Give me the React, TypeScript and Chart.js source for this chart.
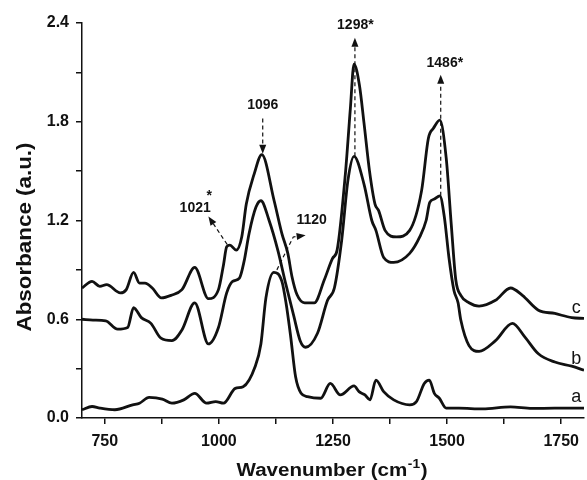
import React, { useEffect, useRef } from 'react';
import { Chart, registerables } from 'chart.js';

Chart.register(...registerables);

// ---- Data (wavenumber cm-1, absorbance a.u.) ----
const waveC = [700, 722, 739, 754, 784, 797, 813, 826, 838, 854, 874, 895, 919, 947, 977, 999, 1010, 1017, 1024, 1038, 1050, 1060, 1077, 1094, 1121, 1138, 1151, 1160, 1171, 1188, 1209, 1231, 1249, 1259, 1277, 1288, 1296, 1308, 1318, 1330, 1342, 1350, 1364, 1389, 1418, 1444, 1459, 1470, 1484, 1498, 1509, 1519, 1530, 1548, 1570, 1606, 1639, 1665, 1700, 1736, 1773, 1800];
const absC = [0.79, 0.83, 0.80, 0.81, 0.76, 0.78, 0.885, 0.82, 0.82, 0.79, 0.73, 0.745, 0.78, 0.915, 0.725, 0.78, 0.93, 1.04, 1.05, 1.02, 1.10, 1.30, 1.48, 1.60, 1.32, 1.12, 1.0, 0.86, 0.75, 0.70, 0.70, 0.84, 0.97, 1.02, 1.48, 1.88, 2.15, 2.02, 1.79, 1.50, 1.30, 1.26, 1.14, 1.10, 1.14, 1.38, 1.70, 1.76, 1.81, 1.58, 1.18, 0.84, 0.745, 0.70, 0.68, 0.715, 0.79, 0.745, 0.655, 0.635, 0.61, 0.605];

const waveB = [700, 724, 752, 778, 800, 813, 830, 851, 873, 897, 919, 947, 977, 999, 1017, 1030, 1045, 1055, 1066, 1081, 1092, 1110, 1129, 1146, 1164, 1178, 1190, 1216, 1238, 1253, 1269, 1283, 1296, 1318, 1335, 1344, 1361, 1383, 1418, 1440, 1454, 1462, 1472, 1484, 1494, 1504, 1515, 1524, 1530, 1548, 1570, 1606, 1643, 1671, 1700, 1736, 1773, 1800];
const absB = [0.60, 0.595, 0.59, 0.54, 0.55, 0.67, 0.61, 0.575, 0.485, 0.47, 0.535, 0.70, 0.45, 0.55, 0.76, 0.83, 0.85, 0.95, 1.12, 1.28, 1.32, 1.20, 1.02, 0.82, 0.62, 0.47, 0.43, 0.515, 0.715, 0.79, 1.08, 1.45, 1.59, 1.42, 1.20, 1.14, 0.975, 0.945, 1.0, 1.10, 1.20, 1.31, 1.33, 1.35, 1.22, 0.975, 0.775, 0.70, 0.595, 0.44, 0.405, 0.47, 0.575, 0.49, 0.39, 0.34, 0.315, 0.29];

const waveA = [700, 722, 739, 772, 811, 826, 847, 876, 897, 923, 947, 973, 993, 1010, 1036, 1053, 1079, 1092, 1103, 1120, 1138, 1147, 1157, 1168, 1180, 1194, 1223, 1244, 1266, 1296, 1307, 1320, 1331, 1344, 1361, 1383, 1418, 1433, 1450, 1461, 1472, 1483, 1498, 1526, 1578, 1639, 1686, 1736, 1800];
const absA = [0.05, 0.07, 0.06, 0.05, 0.08, 0.09, 0.125, 0.115, 0.09, 0.11, 0.15, 0.09, 0.10, 0.09, 0.18, 0.19, 0.31, 0.45, 0.73, 0.885, 0.83, 0.70, 0.50, 0.25, 0.15, 0.13, 0.12, 0.21, 0.14, 0.195, 0.16, 0.14, 0.11, 0.23, 0.16, 0.11, 0.08, 0.10, 0.21, 0.23, 0.15, 0.12, 0.06, 0.06, 0.055, 0.067, 0.058, 0.06, 0.06];

const seriesNames = ['a', 'b', 'c'];
const seriesLabelPos = [0.127, 0.36, 0.667];
const seriesLabelX = 1783;

const xTicks = [750, 875, 1000, 1125, 1250, 1375, 1500, 1625, 1750];
const yTicks = [0, 0.3, 0.6, 0.9, 1.2, 1.5, 1.8, 2.1, 2.4];

// peak annotations, in data units
const peakTexts = [
  { text: '1096', x: 1096, y: 1.9 },
  { text: '1298*', x: 1299, y: 2.385 },
  { text: '1486*', x: 1495, y: 2.155 },
  { text: '1120', x: 1203, y: 1.2 },
  { text: '1021', x: 948, y: 1.275 },
  { text: '*', x: 979, y: 1.345 },
];
const peakArrows = [
  { pts: [[1096, 1.82], [1096, 1.605]] },
  { pts: [[1298, 1.59], [1298, 2.31]] },
  { pts: [[1486, 1.35], [1486, 2.085]] },
  { pts: [[1018, 1.055], [977, 1.225]] },
  { pts: [[1127, 0.9], [1163, 1.1], [1190, 1.11]] },
];

const FONT = '"Liberation Sans", Arial, sans-serif';
const INK = '#111';

const overlay = {
  id: 'overlay',
  afterDatasetsDraw(chart: any) {
    const { ctx, scales } = chart;
    const xs = scales.x;
    const ys = scales.y;
    const px = (v: number) => xs.getPixelForValue(v);
    const py = (v: number) => ys.getPixelForValue(v);
    ctx.save();
    ctx.strokeStyle = INK;
    ctx.fillStyle = INK;
    peakArrows.forEach((a) => {
      const p = a.pts.map(([x, y]) => [px(x), py(y)]);
      const n = p.length;
      const [x1, y1] = p[n - 2];
      const [x2, y2] = p[n - 1];
      const ang = Math.atan2(y2 - y1, x2 - x1);
      const hl = 9;
      const hw = 3.5;
      ctx.setLineDash([4, 3]);
      ctx.lineWidth = 1.2;
      ctx.beginPath();
      ctx.moveTo(p[0][0], p[0][1]);
      for (let i = 1; i < n - 1; i++) ctx.lineTo(p[i][0], p[i][1]);
      ctx.lineTo(x2 - Math.cos(ang) * hl, y2 - Math.sin(ang) * hl);
      ctx.stroke();
      ctx.setLineDash([]);
      ctx.beginPath();
      ctx.moveTo(x2, y2);
      ctx.lineTo(x2 - Math.cos(ang) * hl - Math.sin(ang) * hw, y2 - Math.sin(ang) * hl + Math.cos(ang) * hw);
      ctx.lineTo(x2 - Math.cos(ang) * hl + Math.sin(ang) * hw, y2 - Math.sin(ang) * hl - Math.cos(ang) * hw);
      ctx.closePath();
      ctx.fill();
    });
    ctx.font = `bold 14px ${FONT}`;
    ctx.textAlign = 'center';
    ctx.textBaseline = 'middle';
    peakTexts.forEach((t) => ctx.fillText(t.text, px(t.x), py(t.y)));
    ctx.font = `18px ${FONT}`;
    seriesNames.forEach((s, i) => ctx.fillText(s, px(seriesLabelX), py(seriesLabelPos[i])));
    ctx.restore();
  },
  afterDraw(chart: any) {
    const { ctx } = chart;
    ctx.save();
    ctx.fillStyle = INK;
    ctx.font = `bold 21px ${FONT}`;
    const yt = 'Absorbance (a.u.)';
    const yw = ctx.measureText(yt).width;
    ctx.translate(31, 237);
    ctx.rotate(-Math.PI / 2);
    ctx.scale(189 / yw, 1);
    ctx.textAlign = 'center';
    ctx.textBaseline = 'alphabetic';
    ctx.fillText(yt, 0, 0);
    ctx.restore();

    ctx.save();
    ctx.fillStyle = INK;
    const main = 'Wavenumber (cm';
    const sup = '-1';
    const close = ')';
    const mainFont = `bold 18px ${FONT}`;
    const supFont = `bold 12px ${FONT}`;
    ctx.font = mainFont;
    const w1 = ctx.measureText(main).width;
    const w3 = ctx.measureText(close).width;
    ctx.font = supFont;
    const w2 = ctx.measureText(sup).width;
    const total = w1 + w2 + w3 + 1;
    const sx = 191 / total;
    ctx.translate(332 - 95.5, 476);
    ctx.scale(sx, 1);
    ctx.textAlign = 'left';
    ctx.textBaseline = 'alphabetic';
    ctx.font = mainFont;
    ctx.fillText(main, 0, 0);
    ctx.font = supFont;
    ctx.fillText(sup, w1 + 0.5, -8);
    ctx.font = mainFont;
    ctx.fillText(close, w1 + w2 + 1, 0);
    ctx.restore();
  },
};

export default function App() {
  const ref = useRef<HTMLCanvasElement | null>(null);
  useEffect(() => {
    if (!ref.current) return;
    const mk = (xv: number[], yv: number[]) => xv.map((x, i) => ({ x, y: yv[i] }));
    const dsStyle = {
      borderColor: INK,
      borderWidth: 2.8,
      pointRadius: 0,
      fill: false,
      cubicInterpolationMode: 'monotone' as const,
    };
    const chart = new Chart(ref.current, {
      type: 'line',
      data: {
        datasets: [
          { label: 'a', data: mk(waveA, absA), ...dsStyle },
          { label: 'b', data: mk(waveB, absB), ...dsStyle },
          { label: 'c', data: mk(waveC, absC), ...dsStyle },
        ],
      },
      options: {
        animation: false,
        responsive: false,
        devicePixelRatio: 1,
        layout: { padding: { top: 23, right: 0, left: 0, bottom: 0 } },
        plugins: { legend: { display: false }, tooltip: { enabled: false } },
        scales: {
          x: {
            type: 'linear',
            min: 700,
            max: 1800,
            afterFit: (s: any) => { s.height = 62; },
            afterBuildTicks: (s: any) => { s.ticks = xTicks.map((v) => ({ value: v })); },
            ticks: {
              autoSkip: false,
              maxRotation: 0,
              padding: 8,
              color: INK,
              font: { family: FONT, size: 16, weight: 'bold' },
              callback: (v: any) => (Number(v) % 250 === 0 ? String(v) : ''),
            },
            grid: { drawOnChartArea: false, drawTicks: true, tickLength: 6, color: INK, lineWidth: 1.5 },
            border: { color: INK, width: 1.5 },
          },
          y: {
            type: 'linear',
            min: 0,
            max: 2.4,
            afterFit: (s: any) => { s.width = 82; },
            afterBuildTicks: (s: any) => { s.ticks = yTicks.map((v) => ({ value: v })); },
            ticks: {
              autoSkip: false,
              padding: 7,
              color: INK,
              font: { family: FONT, size: 16, weight: 'bold' },
              callback: (v: any) => (Math.round(Number(v) * 10) % 6 === 0 ? Number(v).toFixed(1) : ''),
            },
            grid: { drawOnChartArea: false, drawTicks: true, tickLength: 6, color: INK, lineWidth: 1.5 },
            border: { color: INK, width: 1.5 },
          },
        },
      },
      plugins: [overlay],
    });
    return () => chart.destroy();
  }, []);
  return (
    <div style={{ position: 'fixed', left: 0, top: 0, width: 587, height: 480, background: '#fff' }}>
      <canvas ref={ref} width={587} height={480} style={{ width: 587, height: 480, display: 'block' }} />
    </div>
  );
}
